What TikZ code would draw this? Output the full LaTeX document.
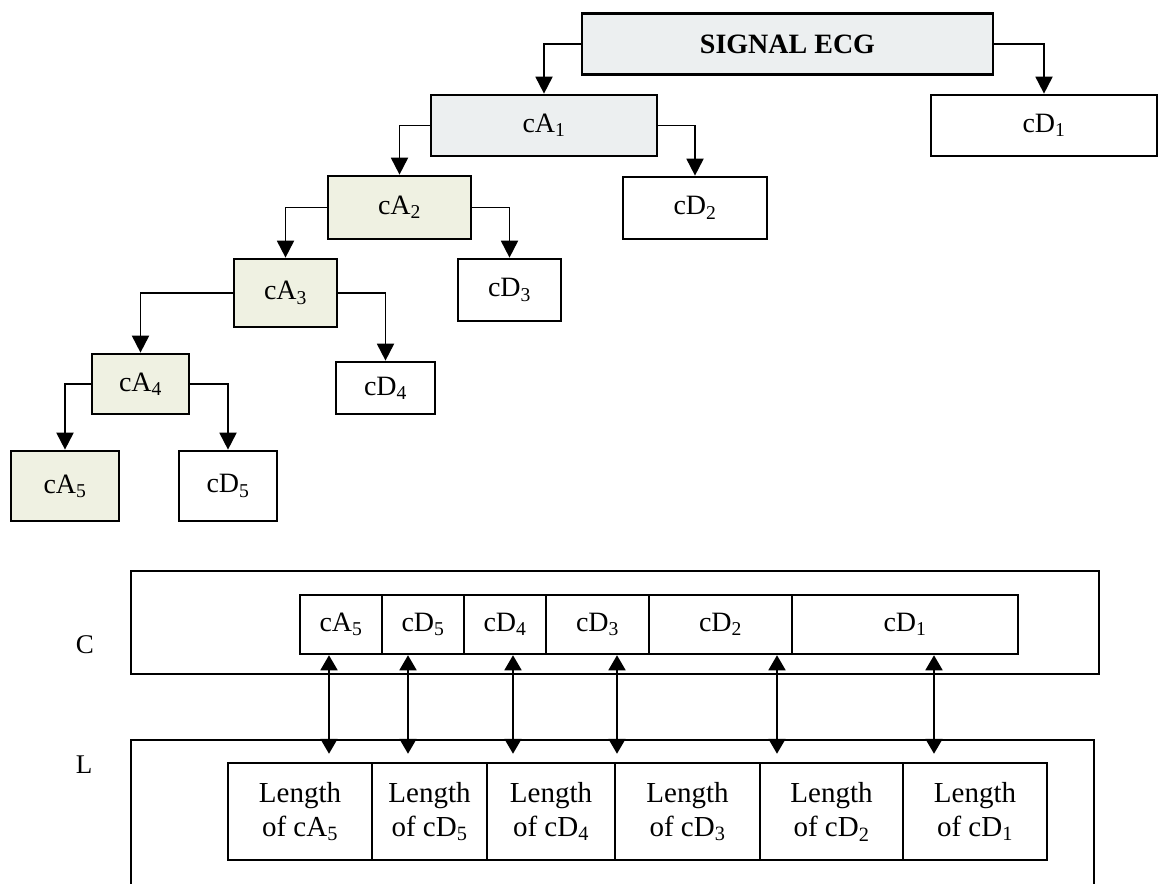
\documentclass[tikz,border=0pt]{standalone}
\usepackage{fontspec}
\setmainfont{Liberation Serif}
\usetikzlibrary{arrows.meta}
\definecolor{approxfill}{RGB}{236,239,240}
\definecolor{levelfill}{RGB}{239,241,226}
\begin{document}
\begin{tikzpicture}[x=1pt,y=-1pt,
  tbox/.style={draw=black,line width=2.7pt,rectangle,inner sep=0pt,font=\fontsize{28}{33}\selectfont},
  topbox/.style={tbox,fill=approxfill},
  abox/.style={tbox,fill=levelfill},
  dbox/.style={tbox,fill=white},
  conn/.style={line width=1.9pt,-{Triangle[length=17pt,width=17pt]}},
  frame/.style={draw,line width=2.5pt,rectangle,inner sep=0pt},
  cell/.style={draw,line width=2.5pt,rectangle,inner sep=0pt,font=\fontsize{28}{33}\selectfont},
  lcell/.style={draw,line width=2.5pt,rectangle,inner sep=0pt,align=center,font=\fontsize{29}{34}\selectfont},
  link/.style={line width=1.8pt,{Triangle[length=15pt,width=17pt]}-{Triangle[length=15pt,width=17pt]}},
  side/.style={inner sep=0pt,font=\fontsize{27}{32}\selectfont},
]
\useasboundingbox (0,0) rectangle (1166,883);

% decomposition tree
\node[topbox,minimum width=411pt,minimum height=61pt,font=\fontsize{28}{33}\selectfont\bfseries] (sig) at (787.5,44) {SIGNAL ECG};
\node[topbox,minimum width=226pt,minimum height=61pt] (ca1) at (544,125.5) {cA\textsubscript{1}};
\node[dbox,minimum width=226pt,minimum height=61pt] (cd1) at (1044,125.5) {cD\textsubscript{1}};
\node[abox,minimum width=143pt,minimum height=63pt] (ca2) at (399.5,207.5) {cA\textsubscript{2}};
\node[dbox,minimum width=144pt,minimum height=62pt] (cd2) at (695,208) {cD\textsubscript{2}};
\node[abox,minimum width=103pt,minimum height=68pt] (ca3) at (285.5,293) {cA\textsubscript{3}};
\node[dbox,minimum width=103pt,minimum height=62pt] (cd3) at (509.5,290) {cD\textsubscript{3}};
\node[abox,minimum width=97pt,minimum height=60pt] (ca4) at (140.5,384) {cA\textsubscript{4}};
\node[dbox,minimum width=99pt,minimum height=52pt] (cd4) at (385.5,388) {cD\textsubscript{4}};
\node[abox,minimum width=108pt,minimum height=70pt] (ca5) at (65,486) {cA\textsubscript{5}};
\node[dbox,minimum width=98pt,minimum height=70pt] (cd5) at (228,486) {cD\textsubscript{5}};

\draw[conn] (sig.west) -| (ca1.north);
\draw[conn] (sig.east) -| (cd1.north);
\draw[conn] (ca1.west) -| (ca2.north);
\draw[conn] (ca1.east) -| (cd2.north);
\draw[conn] (ca2.west) -| (ca3.north);
\draw[conn] (ca2.east) -| (cd3.north);
\draw[conn] (ca3.west) -| (ca4.north);
\draw[conn] (ca3.east) -| (cd4.north);
\draw[conn] (ca4.west) -| (ca5.north);
\draw[conn] (ca4.east) -| (cd5.north);

% coefficient vector C
\node[frame,minimum width=968pt,minimum height=103pt] (cframe) at (615,622.5) {};
\node[side] (clab) at (85,645) {C};
\node[cell,minimum width=82pt,minimum height=59pt] (cc1) at (341,624.5) {cA\textsubscript{5}};
\node[cell,minimum width=82pt,minimum height=59pt] (cc2) at (423,624.5) {cD\textsubscript{5}};
\node[cell,minimum width=82pt,minimum height=59pt] (cc3) at (505,624.5) {cD\textsubscript{4}};
\node[cell,minimum width=103pt,minimum height=59pt] (cc4) at (597.5,624.5) {cD\textsubscript{3}};
\node[cell,minimum width=143pt,minimum height=59pt] (cc5) at (720.5,624.5) {cD\textsubscript{2}};
\node[cell,minimum width=226pt,minimum height=59pt] (cc6) at (905,624.5) {cD\textsubscript{1}};

% bookkeeping vector L (frame open at the bottom)
\draw[line width=2.5pt] (131,890) -- (131,740) -- (1094,740) -- (1094,890);
\node[side] (llab) at (84,765) {L};
\node[lcell,minimum width=144pt,minimum height=97pt] (lc1) at (300,811.5) {Length\\of cA\textsubscript{5}};
\node[lcell,minimum width=115pt,minimum height=97pt] (lc2) at (429.5,811.5) {Length\\of cD\textsubscript{5}};
\node[lcell,minimum width=128pt,minimum height=97pt] (lc3) at (551,811.5) {Length\\of cD\textsubscript{4}};
\node[lcell,minimum width=145pt,minimum height=97pt] (lc4) at (687.5,811.5) {Length\\of cD\textsubscript{3}};
\node[lcell,minimum width=143pt,minimum height=97pt] (lc5) at (831.5,811.5) {Length\\of cD\textsubscript{2}};
\node[lcell,minimum width=144pt,minimum height=97pt] (lc6) at (975,811.5) {Length\\of cD\textsubscript{1}};

% links between the two vectors
\coordinate (k1) at (329,0);
\coordinate (k2) at (408,0);
\coordinate (k3) at (513,0);
\coordinate (k4) at (617,0);
\coordinate (k5) at (777,0);
\coordinate (k6) at (934,0);
\draw[link,shorten >=8pt] (cc1.south -| k1) -- (lc1.north -| k1);
\draw[link,shorten >=8pt] (cc2.south -| k2) -- (lc2.north -| k2);
\draw[link,shorten >=8pt] (cc3.south -| k3) -- (lc3.north -| k3);
\draw[link,shorten >=8pt] (cc4.south -| k4) -- (lc4.north -| k4);
\draw[link,shorten >=8pt] (cc5.south -| k5) -- (lc5.north -| k5);
\draw[link,shorten >=8pt] (cc6.south -| k6) -- (lc6.north -| k6);
\end{tikzpicture}
\end{document}
